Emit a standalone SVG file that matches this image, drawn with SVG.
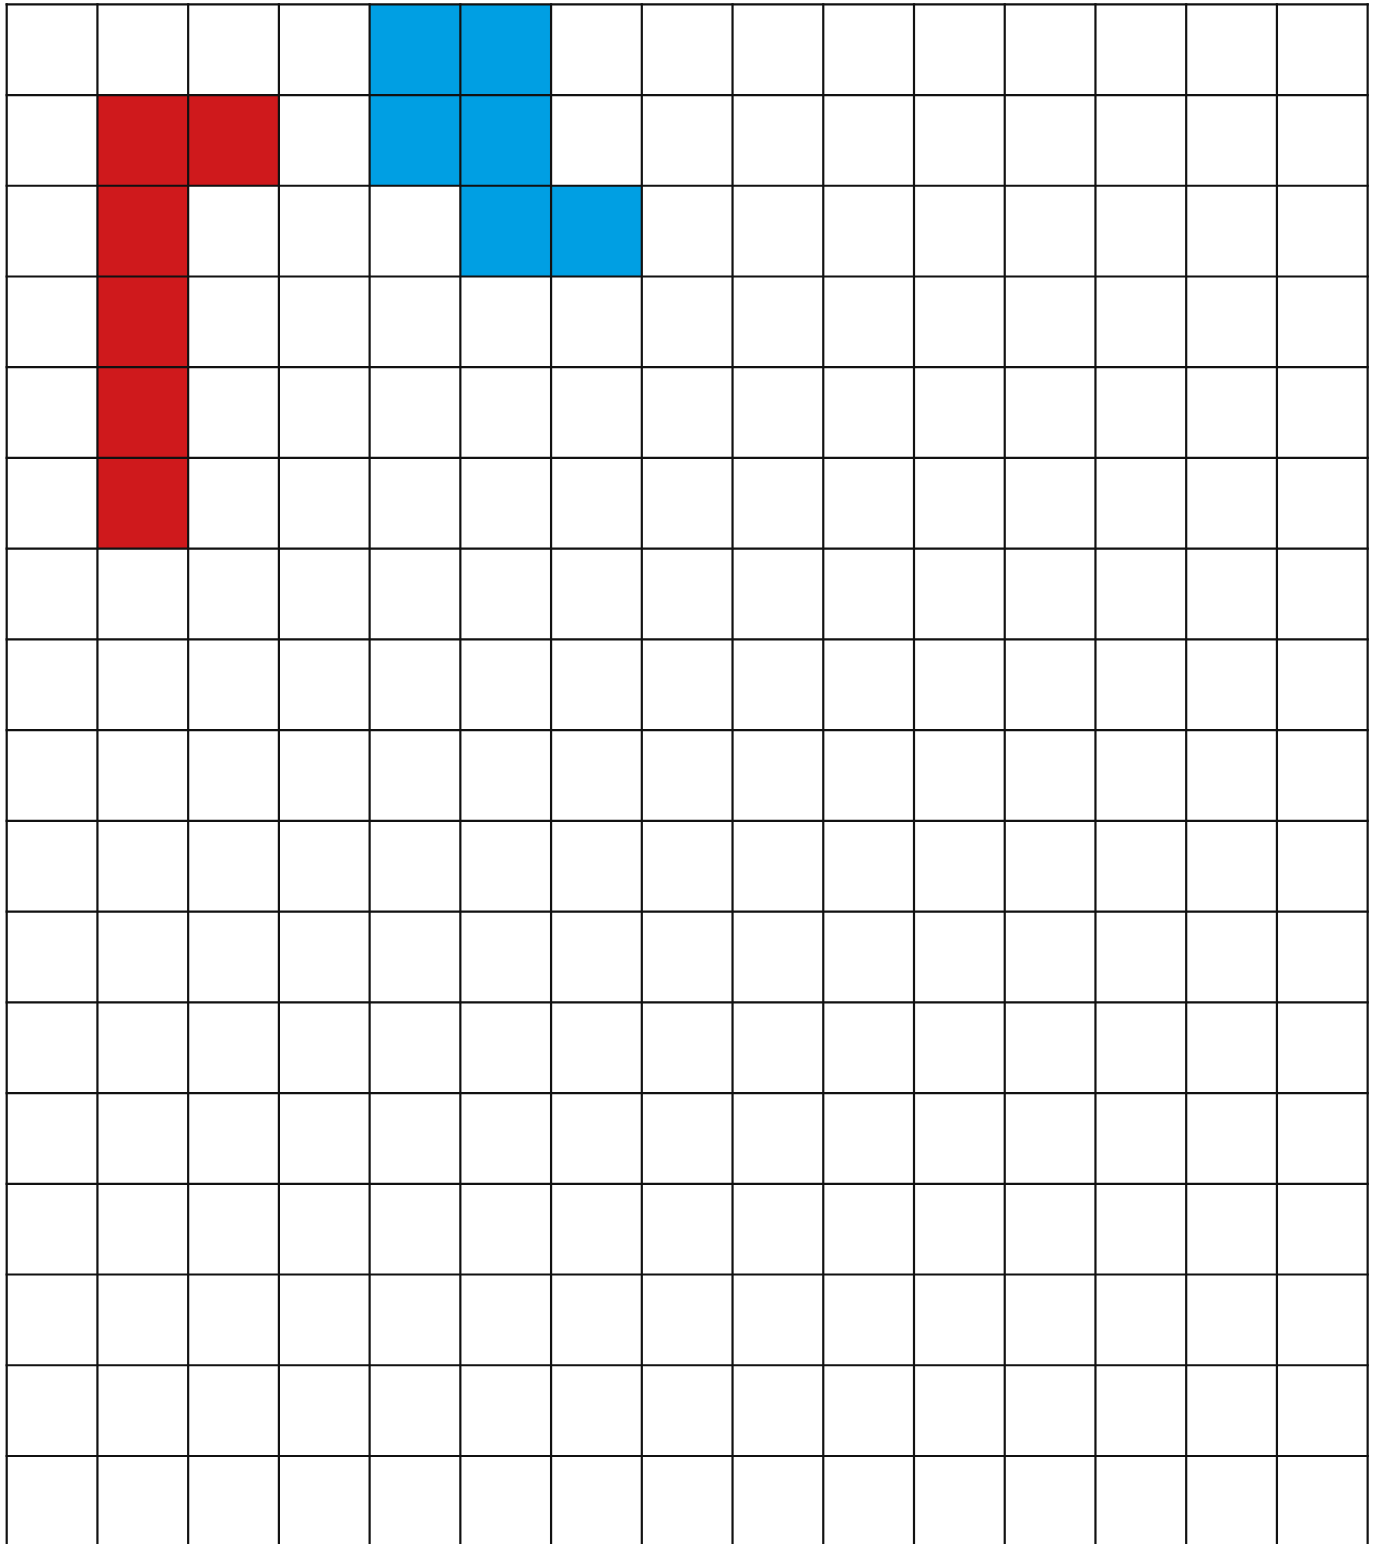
<svg xmlns="http://www.w3.org/2000/svg" width="1378" height="1544" viewBox="0 0 1378 1544">
<style>
.blue{fill:#009fe3}
.red{fill:#cf191c}
.grid line{stroke:#111;stroke-width:2.2;stroke-linecap:square}
</style>
<rect width="1378" height="1544" fill="#fff"/>
<g id="cells">
<rect class="blue" x="369.62" y="4.3" width="181.46" height="181.46"/>
<rect class="blue" x="460.35" y="185.76" width="181.46" height="90.73"/>
<rect class="red" x="97.43" y="95.03" width="181.46" height="90.73"/>
<rect class="red" x="97.43" y="185.76" width="90.73" height="362.92"/>
</g>
<g id="grid" class="grid">
<line x1="6.7" y1="4.3" x2="6.7" y2="1546"/>
<line x1="97.43" y1="4.3" x2="97.43" y2="1546"/>
<line x1="188.16" y1="4.3" x2="188.16" y2="1546"/>
<line x1="278.89" y1="4.3" x2="278.89" y2="1546"/>
<line x1="369.62" y1="4.3" x2="369.62" y2="1546"/>
<line x1="460.35" y1="4.3" x2="460.35" y2="1546"/>
<line x1="551.08" y1="4.3" x2="551.08" y2="1546"/>
<line x1="641.81" y1="4.3" x2="641.81" y2="1546"/>
<line x1="732.54" y1="4.3" x2="732.54" y2="1546"/>
<line x1="823.27" y1="4.3" x2="823.27" y2="1546"/>
<line x1="914.0" y1="4.3" x2="914.0" y2="1546"/>
<line x1="1004.73" y1="4.3" x2="1004.73" y2="1546"/>
<line x1="1095.46" y1="4.3" x2="1095.46" y2="1546"/>
<line x1="1186.19" y1="4.3" x2="1186.19" y2="1546"/>
<line x1="1276.92" y1="4.3" x2="1276.92" y2="1546"/>
<line x1="1367.65" y1="4.3" x2="1367.65" y2="1546"/>
<line x1="6.7" y1="4.3" x2="1367.65" y2="4.3"/>
<line x1="6.7" y1="95.03" x2="1367.65" y2="95.03"/>
<line x1="6.7" y1="185.76" x2="1367.65" y2="185.76"/>
<line x1="6.7" y1="276.49" x2="1367.65" y2="276.49"/>
<line x1="6.7" y1="367.22" x2="1367.65" y2="367.22"/>
<line x1="6.7" y1="457.95" x2="1367.65" y2="457.95"/>
<line x1="6.7" y1="548.68" x2="1367.65" y2="548.68"/>
<line x1="6.7" y1="639.41" x2="1367.65" y2="639.41"/>
<line x1="6.7" y1="730.14" x2="1367.65" y2="730.14"/>
<line x1="6.7" y1="820.87" x2="1367.65" y2="820.87"/>
<line x1="6.7" y1="911.6" x2="1367.65" y2="911.6"/>
<line x1="6.7" y1="1002.33" x2="1367.65" y2="1002.33"/>
<line x1="6.7" y1="1093.06" x2="1367.65" y2="1093.06"/>
<line x1="6.7" y1="1183.79" x2="1367.65" y2="1183.79"/>
<line x1="6.7" y1="1274.52" x2="1367.65" y2="1274.52"/>
<line x1="6.7" y1="1365.25" x2="1367.65" y2="1365.25"/>
<line x1="6.7" y1="1455.98" x2="1367.65" y2="1455.98"/>
</g>
</svg>
